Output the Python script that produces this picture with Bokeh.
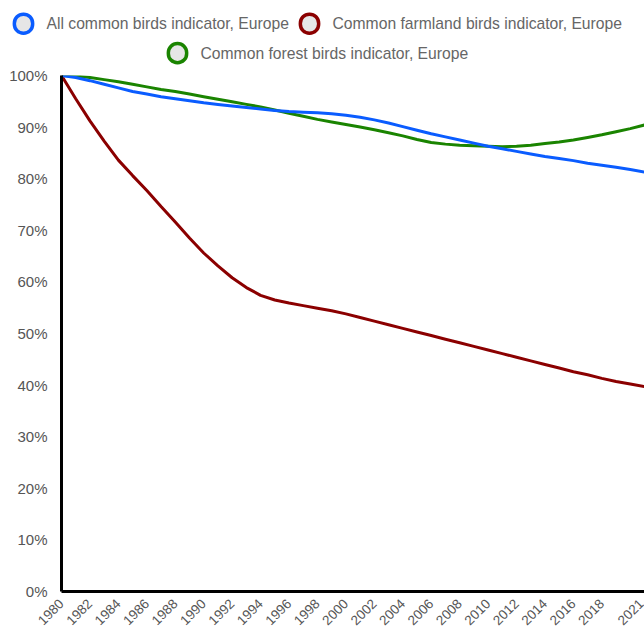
import math
from bokeh.plotting import figure
from bokeh.models import Range1d, FixedTicker, ColumnDataSource
from bokeh.core.properties import value
from bokeh.embed import file_html
from bokeh.resources import INLINE

years = list(range(1980, 2022))
all_birds = [100, 99.6, 99.0, 98.3, 97.6, 96.9, 96.4, 95.9, 95.5, 95.1,
             94.7, 94.4, 94.1, 93.8, 93.5, 93.2, 93.0, 92.9, 92.8, 92.6,
             92.3, 91.9, 91.4, 90.8, 90.1, 89.4, 88.7, 88.1, 87.5, 86.9,
             86.3, 85.8, 85.3, 84.8, 84.3, 83.9, 83.5, 83.0, 82.6, 82.2,
             81.8, 81.3]
farmland = [100, 95.5, 91.2, 87.3, 83.6, 80.6, 77.7, 74.6, 71.6, 68.5,
            65.6, 63.1, 60.8, 58.9, 57.4, 56.5, 55.9, 55.4, 54.9, 54.4,
            53.8, 53.1, 52.4, 51.7, 51.0, 50.3, 49.6, 48.9, 48.2, 47.5,
            46.8, 46.1, 45.4, 44.7, 44.0, 43.3, 42.6, 42.0, 41.3, 40.7,
            40.2, 39.7]
forest = [100, 99.9, 99.6, 99.2, 98.8, 98.3, 97.8, 97.3, 96.9, 96.4,
          95.9, 95.4, 94.9, 94.4, 93.9, 93.3, 92.7, 92.1, 91.5, 91.0,
          90.5, 90.0, 89.5, 88.9, 88.3, 87.6, 87.0, 86.7, 86.5, 86.4,
          86.3, 86.2, 86.3, 86.5, 86.8, 87.1, 87.5, 88.0, 88.5, 89.1,
          89.7, 90.4]

series_names = ["All common birds indicator, Europe",
                "Common farmland birds indicator, Europe",
                "Common forest birds indicator, Europe"]
series_colors = ["#0a5cff", "#8b0000", "#1a8400"]

x_ticks = [1980, 1982, 1984, 1986, 1988, 1990, 1992, 1994, 1996, 1998,
           2000, 2002, 2004, 2006, 2008, 2010, 2012, 2014, 2016, 2018, 2021]
y_ticks = [0, 10, 20, 30, 40, 50, 60, 70, 80, 90, 100]

FONT = "Liberation Sans"
W, H = 644, 632
L, R, T, B = 61, 0, 75, 39

p = figure(width=W, height=H, x_range=Range1d(1980, 2021), y_range=Range1d(0, 100),
           output_backend="svg", toolbar_location=None,
           min_border_left=L, min_border_right=R, min_border_top=T, min_border_bottom=B,
           outline_line_color=None)
p.grid.visible = False

# pixel-like ranges for the legend placed in the top border
p.extra_x_ranges = {"px": Range1d(L, W - R)}
p.extra_y_ranges = {"px": Range1d(H - B, T)}

src = ColumnDataSource(dict(year=years, a=all_birds, f=farmland, g=forest))
p.line("year", "f", source=src, line_color=series_colors[1], line_width=3)
p.line("year", "g", source=src, line_color=series_colors[2], line_width=3)
p.line("year", "a", source=src, line_color=series_colors[0], line_width=3)

leg_x = [23, 309, 177]
leg_y = [23, 23, 52.5]
leg_src = ColumnDataSource(dict(x=leg_x, y=leg_y, tx=[x + 23 for x in leg_x],
                                name=series_names, color=series_colors,
                                blank=[" "] * 3))
# legend markers: empty padded text boxes with rounded borders (circles)
p.text("x", "y", text="blank", source=leg_src, x_range_name="px", y_range_name="px",
       text_font_size="1px", text_align="center", text_baseline="middle",
       padding=9, border_radius=9, background_fill_color="#e6e6e6",
       border_line_color="color", border_line_width=3.5, level="overlay")
p.text("tx", "y", text="name", source=leg_src, x_range_name="px", y_range_name="px",
       text_font=value(FONT), text_font_size="15.7px", text_color="#666666",
       text_baseline="middle", text_align="left", level="overlay")

p.yaxis.ticker = FixedTicker(ticks=y_ticks)
p.yaxis.major_label_overrides = {t: f"{t}%" for t in y_ticks}
p.xaxis.ticker = FixedTicker(ticks=x_ticks)
p.xaxis.major_label_orientation = math.pi / 4

for ax in (p.xaxis, p.yaxis):
    ax.axis_line_color = "black"
    ax.axis_line_width = 3
    ax.major_tick_line_color = None
    ax.minor_tick_line_color = None
    ax.major_label_text_font = FONT
    ax.major_label_text_color = "#555555"
p.yaxis.major_label_text_font_size = "15px"
p.xaxis.major_label_text_font_size = "13.5px"
p.yaxis.major_label_standoff = 8
p.xaxis.major_label_standoff = 4

open("out.html", "w").write(file_html(p, INLINE))
